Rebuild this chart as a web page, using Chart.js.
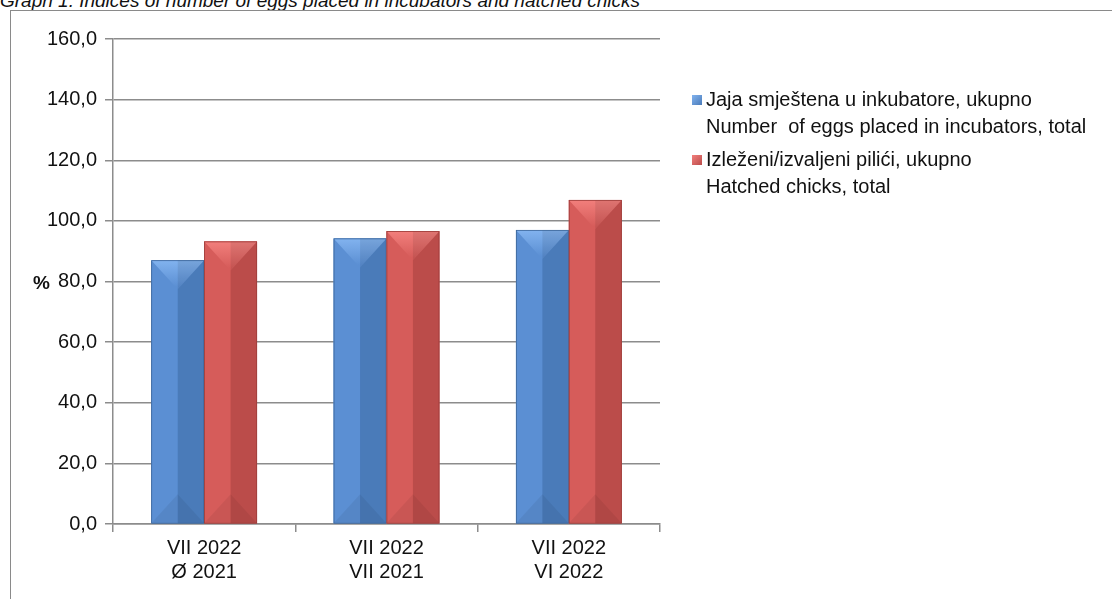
<!DOCTYPE html>
<html lang="hr">
<head>
    <meta charset="UTF-8">
    <title>Graph 1</title>
    <script src="https://cdn.jsdelivr.net/npm/chart.js"></script>
    <style>
        body {
            margin: 0;
            background: #ffffff;
            font-family: "Liberation Sans", Arial, sans-serif;
        }
        .page {
            position: relative;
            width: 1112px;
            height: 599px;
            overflow: hidden;
        }
        .caption {
            position: absolute;
            left: 0;
            top: -10px;
            font-size: 19px;
            font-style: italic;
            color: #111;
            white-space: nowrap;
        }
        .frame {
            position: absolute;
            left: 10px;
            top: 10px;
            width: 1120px;
            height: 620px;
            border: 1.5px solid #8a8a8a;
            box-sizing: border-box;
        }
        .chart-box {
            position: absolute;
            left: 0;
            top: 0;
            width: 1112px;
            height: 599px;
        }
        .unit {
            position: absolute;
            left: 33px;
            top: 272px;
            font-size: 19px;
            font-weight: bold;
            color: #111;
        }
        .legend {
            position: absolute;
            left: 692px;
            top: 86px;
            font-size: 20px;
            color: #111;
        }
        .legend-item {
            position: relative;
            padding-left: 14px;
            line-height: 27px;
            margin-bottom: 6px;
            white-space: pre;
        }
        .legend-item span {
            position: absolute;
            left: 0;
            top: 9px;
            width: 10px;
            height: 10px;
        }
    </style>
</head>
<body>
<div class="page">
    <div class="caption">Graph 1. Indices of number of eggs placed in incubators and hatched chicks</div>
    <div class="frame"></div>
    <div class="chart-box"><canvas id="chart"></canvas></div>
    <div class="unit">%</div>
    <div class="legend" id="legend"></div>
</div>

<script>
    const categories = [['VII 2022', 'Ø 2021'], ['VII 2022', 'VII 2021'], ['VII 2022', 'VI 2022']];
    const eggsValues = [87.0, 94.2, 97.0];
    const chicksValues = [93.2, 96.6, 106.9];
    const seriesLabels = [
        ['Jaja smještena u inkubatore, ukupno', 'Number  of eggs placed in incubators, total'],
        ['Izleženi/izvaljeni pilići, ukupno', 'Hatched chicks, total']
    ];

    // face colours: light half, dark half, top bevel
    const shades = [
        { left: '#5b8fd3', right: '#4a7bb9', top: '#82b3ef', edge: '#3d6699' },
        { left: '#d65c5a', right: '#bb4c4a', top: '#f27f7c', edge: '#9c3d3b' }
    ];

    const font = "'Liberation Sans', Arial, sans-serif";

    // draws the bevelled look over each bar, using the bar element geometry
    const bevelPlugin = {
        id: 'bevel',
        afterDatasetsDraw(chart) {
            const ctx = chart.ctx;
            chart.data.datasets.forEach((ds, di) => {
                const c = shades[di];
                chart.getDatasetMeta(di).data.forEach(bar => {
                    const p = bar.getProps(['x', 'y', 'base', 'width'], true);
                    const l = p.x - p.width / 2, r = p.x + p.width / 2;
                    const t = p.y, b = p.base, h = p.width / 2;
                    ctx.save();
                    ctx.fillStyle = c.left;
                    ctx.fillRect(l, t, p.width / 2, b - t);
                    ctx.fillStyle = c.right;
                    ctx.fillRect(p.x, t, p.width / 2, b - t);
                    // top V bevel
                    const g = ctx.createLinearGradient(0, t, 0, t + h);
                    g.addColorStop(0, c.top);
                    g.addColorStop(1, c.left);
                    ctx.fillStyle = g;
                    ctx.beginPath();
                    ctx.moveTo(l, t);
                    ctx.lineTo(r, t);
                    ctx.lineTo(p.x, t + h * 1.1);
                    ctx.closePath();
                    ctx.fill();
                    ctx.fillStyle = 'rgba(0,0,0,0.08)';
                    ctx.beginPath();
                    ctx.moveTo(p.x, t);
                    ctx.lineTo(r, t);
                    ctx.lineTo(p.x, t + h * 1.1);
                    ctx.closePath();
                    ctx.fill();
                    // bottom shading
                    ctx.fillStyle = 'rgba(0,0,0,0.06)';
                    ctx.beginPath();
                    ctx.moveTo(l, b);
                    ctx.lineTo(p.x, b - h * 1.1);
                    ctx.lineTo(r, b);
                    ctx.closePath();
                    ctx.fill();
                    ctx.strokeStyle = c.edge;
                    ctx.lineWidth = 0.8;
                    ctx.strokeRect(l + 0.4, t + 0.4, p.width - 0.8, b - t - 0.4);
                    ctx.restore();
                });
            });
        }
    };

    new Chart(document.getElementById('chart'), {
        type: 'bar',
        data: {
            labels: categories,
            datasets: [
                { label: seriesLabels[0][0], data: eggsValues, backgroundColor: shades[0].left },
                { label: seriesLabels[1][0], data: chicksValues, backgroundColor: shades[1].left }
            ]
        },
        options: {
            responsive: true,
            maintainAspectRatio: false,
            animation: false,
            categoryPercentage: 0.58,
            barPercentage: 1.0,
            layout: { padding: { top: 39, right: 452, left: 0, bottom: 0 } },
            plugins: {
                legend: { display: false },
                tooltip: { enabled: false }
            },
            scales: {
                x: {
                    grid: { drawOnChartArea: false, drawTicks: true, tickLength: 8, color: '#8c8c8c', lineWidth: 1.5 },
                    border: { color: '#8c8c8c', width: 1.5 },
                    ticks: { color: '#111', font: { family: font, size: 20 }, padding: 4 },
                    afterFit(scale) { scale.height = 75; }
                },
                y: {
                    min: 0,
                    max: 160,
                    ticks: {
                        stepSize: 20,
                        color: '#111',
                        font: { family: font, size: 20 },
                        padding: 8,
                        callback: v => v.toFixed(1).replace('.', ',')
                    },
                    grid: { color: '#8c8c8c', lineWidth: 1.5, tickLength: 8 },
                    border: { color: '#8c8c8c', width: 1.5 },
                    afterFit(scale) { scale.width = 113; }
                }
            }
        },
        plugins: [bevelPlugin]
    });

    // legend with two-line labels
    const legend = document.getElementById('legend');
    seriesLabels.forEach((lines, i) => {
        const item = document.createElement('div');
        item.className = 'legend-item';
        const box = document.createElement('span');
        box.style.background = 'linear-gradient(135deg, ' + shades[i].top + ', ' + shades[i].right + ')';
        item.appendChild(box);
        lines.forEach((t, k) => {
            if (k) item.appendChild(document.createElement('br'));
            item.appendChild(document.createTextNode(t));
        });
        legend.appendChild(item);
    });
</script>
</body>
</html>
